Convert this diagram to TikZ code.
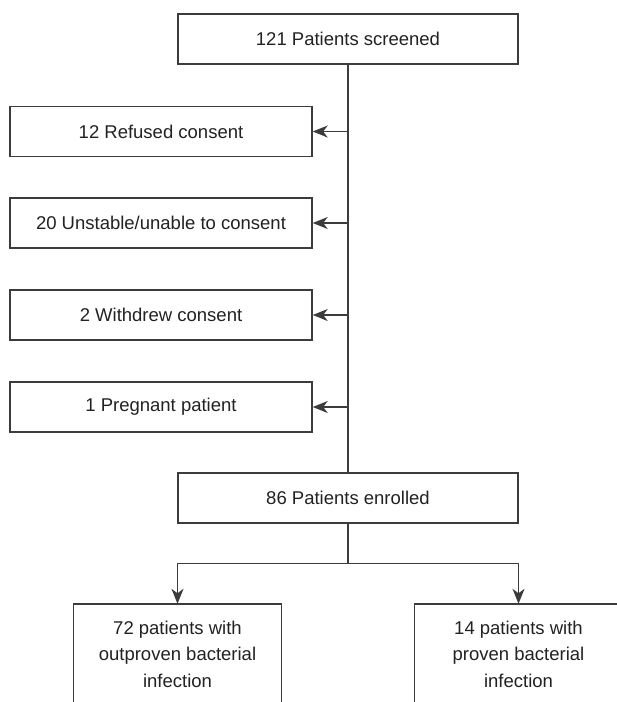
\documentclass[tikz,border=0pt]{standalone}
\usepackage{fontspec}
\setmainfont{Liberation Sans}
\usetikzlibrary{arrows.meta,calc}
\definecolor{linec}{HTML}{3C3C3C}
\definecolor{textc}{HTML}{222222}
\begin{document}
\begin{tikzpicture}[x=1pt,y=-1pt,
  box/.style={draw=linec, line width=1.4pt, rectangle, inner sep=0pt, align=center,
    text=textc, font=\fontsize{18.5}{26.5}\selectfont},
  openbox/.style={box, draw=none},
  conn/.style={draw=linec, line width=1.4pt},
  arr/.style={conn, -{Stealth[length=15pt,width=12pt,inset=4.5pt]}}]
\useasboundingbox (0,0) rectangle (617,702);
\fill[white] (0,0) rectangle (617,702);
\coordinate (pageright) at (617,0);

\node[box, minimum width=340pt, minimum height=50pt] (screened) at (348,39) {121 Patients screened};
\node[box, minimum width=302pt, minimum height=50pt] (refused) at (161,131.5) {12 Refused consent};
\node[box, minimum width=302pt, minimum height=50pt] (unstable) at (161,223) {20 Unstable/unable to consent};
\node[box, minimum width=302pt, minimum height=50pt] (withdrew) at (161,315) {2 Withdrew consent};
\node[box, minimum width=302pt, minimum height=50pt] (pregnant) at (161,407) {1 Pregnant patient};
\node[box, minimum width=340pt, minimum height=50pt] (enrolled) at (348,498) {86 Patients enrolled};

\node[openbox, minimum width=207pt, minimum height=99pt] (nonproven) at (177.5,654)
  {72 patients with\\outproven bacterial\\infection};
\node[openbox, minimum width=207pt, minimum height=99pt] (proven) at (518.5,654)
  {14 patients with\\proven bacterial\\infection};

% open box outlines
\draw[conn] (nonproven.south west) -- (nonproven.north west) -- (nonproven.north east) -- (nonproven.south east);
\draw[conn] (proven.south west) -- (proven.north west) -- (proven.north -| pageright);

% main trunk
\draw[conn] (screened.south) -- (enrolled.north);
\foreach \n in {refused,unstable,withdrew,pregnant}{
  \draw[arr] (\n.east -| screened.south) -- (\n.east);
}

% branch
\coordinate (branch) at ($(enrolled.south)+(0,40)$);
\draw[conn] (enrolled.south) -- (branch);
\draw[arr] (branch) -| (nonproven.north);
\draw[arr] (branch) -| (proven.north);
\end{tikzpicture}
\end{document}
